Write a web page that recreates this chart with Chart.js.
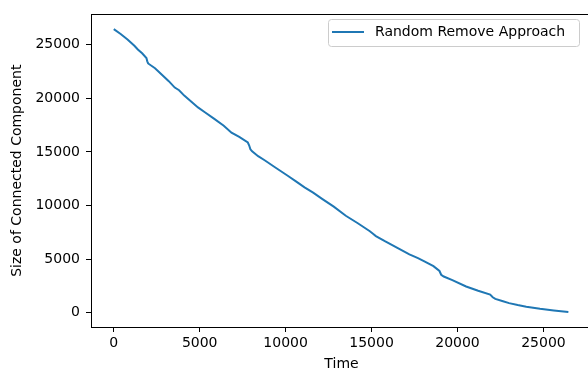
<!DOCTYPE html>
<html>
<head>
<meta charset="utf-8">
<script src="https://cdn.jsdelivr.net/npm/chart.js@4/dist/chart.umd.min.js"></script>
<style>
html,body{margin:0;padding:0;background:#fff;overflow:hidden;width:588px;height:369px;}
#wrap{position:absolute;left:0;top:0;width:600px;height:369px;}
</style>
</head>
<body>
<div id="wrap"><canvas id="c" width="600" height="369"></canvas></div>
<script>
const seriesLabel = "Random Remove Approach";
const xTitle = "Time";
const yTitle = "Size of Connected Component";
const timeValues = [0, 400, 800, 1200, 1400, 1650, 1900, 1950, 2000, 2400, 2800, 3200, 3550, 3800, 4100, 4500, 4900, 5300, 5850, 6400, 6850, 7300, 7800, 7880, 7950, 8050, 8400, 8800, 9400, 10100, 10600, 11100, 11600, 12100, 12800, 13500, 14200, 14900, 15100, 15250, 15800, 16500, 17200, 17700, 18100, 18600, 18950, 19050, 19200, 19700, 20500, 21200, 21900, 22050, 22200, 22600, 23000, 23500, 24000, 24800, 25600, 26450];
const sizeValues = [26450, 26000, 25480, 24900, 24550, 24200, 23750, 23450, 23250, 22800, 22200, 21600, 21000, 20750, 20250, 19700, 19150, 18700, 18080, 17450, 16800, 16400, 15880, 15600, 15250, 15050, 14600, 14200, 13550, 12800, 12250, 11700, 11200, 10650, 9900, 9050, 8350, 7600, 7350, 7150, 6650, 6050, 5450, 5100, 4780, 4350, 3900, 3550, 3380, 3050, 2450, 2050, 1700, 1450, 1300, 1100, 900, 720, 560, 370, 220, 80];
const xTicks = [0, 5000, 10000, 15000, 20000, 25000];
const yTicks = [0, 5000, 10000, 15000, 20000, 25000];

const points = timeValues.map((t, i) => ({x: t, y: sizeValues[i]}));
const FONT = "'DejaVu Sans', sans-serif";

const frameAndLegend = {
  id: 'frameAndLegend',
  afterDraw(chart) {
    const {ctx, chartArea: a} = chart;
    ctx.save();
    ctx.strokeStyle = '#000';
    ctx.lineWidth = 1;
    ctx.strokeRect(Math.round(a.left) + 0.5, Math.round(a.top) + 0.5, Math.round(a.right - a.left), Math.round(a.bottom - a.top));
    // legend
    const bx = 328.5, by = 19.5, bw = 251, bh = 27;
    ctx.fillStyle = 'rgba(255,255,255,0.8)';
    ctx.strokeStyle = '#cccccc';
    ctx.beginPath();
    ctx.roundRect(bx, by, bw, bh, 3);
    ctx.fill();
    ctx.stroke();
    const ds = chart.data.datasets[0];
    ctx.strokeStyle = ds.borderColor;
    ctx.lineWidth = 2;
    ctx.beginPath();
    ctx.moveTo(332, 32);
    ctx.lineTo(364, 32);
    ctx.stroke();
    ctx.fillStyle = '#000';
    ctx.font = '14px ' + FONT;
    ctx.textBaseline = 'middle';
    ctx.textAlign = 'left';
    ctx.fillText(ds.label, 375, 32.5);
    ctx.restore();
  }
};

new Chart(document.getElementById('c'), {
  type: 'line',
  data: {
    datasets: [{
      label: seriesLabel,
      data: points,
      borderColor: '#1f77b4',
      borderWidth: 2,
      pointRadius: 0,
      fill: false,
      tension: 0
    }]
  },
  options: {
    responsive: false,
    animation: false,
    events: [],
    layout: {padding: {left: 0, top: 13, right: 8, bottom: 0}},
    plugins: {legend: {display: false}, tooltip: {enabled: false}},
    scales: {
      x: {
        type: 'linear',
        min: -1325, max: 27825,
        afterFit(s) { s.height = 42; },
        afterBuildTicks(s) { s.ticks = xTicks.map(v => ({value: v})); },
        border: {display: false},
        grid: {display: true, drawOnChartArea: false, drawTicks: true, tickLength: 5, color: '#000', tickColor: '#000'},
        ticks: {color: '#000', padding: 3, font: {family: FONT, size: 14}, maxRotation: 0, callback: v => String(v)},
        title: {display: true, text: xTitle, color: '#000', font: {family: FONT, size: 14, lineHeight: 1}, padding: {top: 0, bottom: -2}}
      },
      y: {
        type: 'linear',
        min: -1325, max: 27825,
        afterFit(s) { s.width = 91; },
        afterBuildTicks(s) { s.ticks = yTicks.map(v => ({value: v})); },
        border: {display: false},
        grid: {display: true, drawOnChartArea: false, drawTicks: true, tickLength: 5, color: '#000', tickColor: '#000'},
        ticks: {color: '#000', padding: 6, font: {family: FONT, size: 14}, callback: v => String(v)},
        title: {display: true, text: yTitle, color: '#000', font: {family: FONT, size: 14, lineHeight: 1.2}, padding: 9}
      }
    }
  },
  plugins: [frameAndLegend]
});
</script>
</body>
</html>
